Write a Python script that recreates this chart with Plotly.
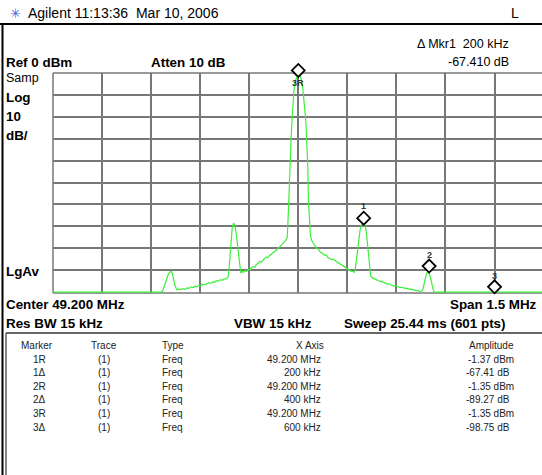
import plotly.graph_objects as go

# ---------------- data ----------------
freq_mhz = [48.45, 48.78, 48.785, 48.792, 48.801, 48.806, 48.811, 48.815, 48.819, 48.823, 48.829,
            48.835, 48.841, 48.847, 48.853, 48.860, 48.866, 48.872, 48.878, 48.884, 48.890, 48.896,
            48.902, 48.908, 48.914, 48.920, 48.926, 48.932, 48.938, 48.944, 48.950, 48.956, 48.962,
            48.968, 48.974, 48.980, 48.985, 48.988, 48.991, 48.994, 48.998, 49.002, 49.006, 49.010,
            49.014, 49.017, 49.020, 49.024, 49.028, 49.032, 49.037, 49.042, 49.047, 49.052, 49.057,
            49.062, 49.067, 49.072, 49.077, 49.082, 49.087, 49.092, 49.097, 49.102, 49.107, 49.112,
            49.117, 49.122, 49.127, 49.132, 49.137, 49.142, 49.147, 49.152, 49.157, 49.162, 49.166,
            49.169, 49.172, 49.175, 49.178, 49.181, 49.184, 49.187, 49.190, 49.194, 49.197, 49.200,
            49.203, 49.207, 49.211, 49.214, 49.217, 49.220, 49.223, 49.226, 49.229, 49.231, 49.234,
            49.237, 49.241, 49.246, 49.251, 49.256, 49.261, 49.266, 49.271, 49.276, 49.281, 49.286,
            49.291, 49.296, 49.301, 49.306, 49.311, 49.316, 49.321, 49.326, 49.331, 49.336, 49.341,
            49.346, 49.351, 49.356, 49.361, 49.366, 49.371, 49.374, 49.377, 49.381, 49.385, 49.389,
            49.393, 49.398, 49.402, 49.406, 49.409, 49.412, 49.415, 49.418, 49.421, 49.426, 49.431,
            49.436, 49.441, 49.446, 49.451, 49.456, 49.461, 49.466, 49.471, 49.476, 49.481, 49.486,
            49.491, 49.496, 49.501, 49.506, 49.511, 49.516, 49.521, 49.526, 49.531, 49.536, 49.541,
            49.546, 49.551, 49.556, 49.561, 49.566, 49.571, 49.576, 49.580, 49.584, 49.588, 49.592,
            49.597, 49.601, 49.605, 49.609, 49.613, 49.617, 49.95]
level_dbm = [-100, -100, -99.5, -96, -92.5, -91, -90.5, -91.5, -94, -97, -99,
             -98.6, -98.9, -98.4, -98.7, -98.1, -98.3, -97.6, -97.9, -97.3, -97.6, -96.9,
             -97.1, -96.4, -96.7, -96.0, -95.7, -96.0, -95.3, -95.5, -94.8, -95.0, -94.3,
             -94.6, -93.9, -94.0, -93.2, -90, -83, -76, -70.5, -68.5, -69.5, -73,
             -78, -83, -88, -91.2, -90.5, -91, -90.2, -90.5, -89.6, -89.9, -88.8,
             -88.4, -88.7, -87.4, -86.8, -86.0, -86.3, -85.2, -84.6, -84.0, -84.3, -83.2,
             -82.9, -82.0, -81.6, -81.0, -80.2, -79.6, -78.9, -78.0, -77.2, -76.2, -75.3,
             -66, -52, -40, -30, -21, -13, -7.5, -4, -1.8, -1.4, -1.37,
             -1.4, -1.9, -4, -7.5, -11, -17, -22, -31, -42, -58, -69,
             -74, -76.5, -77.8, -78.6, -79.9, -80.3, -81.6, -82.0, -82.8, -83.2, -83.0,
             -84.3, -84.6, -85.2, -85.0, -85.5, -85.7, -86.6, -87.0, -87.4, -88.1, -88.6,
             -89.0, -89.6, -89.9, -90.4, -90.6, -90.9, -89.8, -86, -80, -75, -71.5,
             -69.3, -68.8, -69.5, -71, -74, -79, -85, -90, -92.5, -93.4, -93.9,
             -94.1, -94.5, -94.7, -95.2, -95.1, -95.6, -95.8, -96.3, -96.1, -96.6, -96.8,
             -97.2, -97.0, -97.4, -97.5, -97.9, -97.8, -98.1, -98.3, -98.2, -98.6, -98.5,
             -98.8, -98.9, -99.1, -99.3, -99.2, -99.6, -99.7, -99.2, -97, -94, -91.5,
             -90.6, -91.8, -94, -97, -99.3, -100, -100]

marker_freq = [49.2, 49.4, 49.6, 49.8]
marker_level = [-1.35, -68.78, -90.62, -100.10]
marker_labels = ["3R", "1", "2", "3"]

tbl_marker = ["1R", "1\u0394", "2R", "2\u0394", "3R", "3\u0394"]
tbl_trace = ["(1)"] * 6
tbl_type = ["Freq"] * 6
tbl_xaxis = ["49.200 MHz", "200 kHz", "49.200 MHz", "400 kHz", "49.200 MHz", "600 kHz"]
tbl_amp = ["-1.37 dBm", "-67.41 dB", "-1.35 dBm", "-89.27 dB", "-1.35 dBm", "-98.75 dB"]

# ---------------- layout geometry ----------------
W, H = 542, 475
L, T, B = 53, 56, 182          # figure margins (plot region extends above the grid for the markers)
GRID_TOP, GRID_BOT = 73, 293   # pixel rows of the graticule
PW, PH = W - L, H - T - B
Y_LO, Y_HI = -100.4, 0.0
MK_LIFT = 5.5                  # diamonds sit a few pixels above the trace point

def px(x):
    return (x - L) / PW

def py(y):
    return (GRID_BOT - y) / PH

grid_h = GRID_BOT - GRID_TOP
y_dom = [0, grid_h / PH]
y2_dom = [MK_LIFT / PH, 1]
y2_hi = Y_LO + (PH - MK_LIFT) * (Y_HI - Y_LO) / grid_h

FONT = "Liberation Sans, Arial, sans-serif"

fig = go.Figure()
fig.add_trace(go.Scatter(x=freq_mhz, y=level_dbm, mode="lines",
                         line=dict(color="#3cef3c", width=1.2), hoverinfo="skip"))
fig.add_trace(go.Scatter(x=marker_freq, y=marker_level, mode="markers", xaxis="x2", yaxis="y2",
                         cliponaxis=False,
                         marker=dict(symbol="diamond", size=10, color="white",
                                     line=dict(color="black", width=1.8)),
                         hoverinfo="skip"))

ann = []
def txt(x, y, s, size=13, anchor="left", bold=False, color="black"):
    ann.append(dict(x=px(x), y=py(y), xref="paper", yref="paper", text=("<b>%s</b>" % s) if bold else s,
                    showarrow=False, xanchor=anchor, yanchor="middle",
                    font=dict(family=FONT, size=size, color=color)))

# marker labels
shifts = [-7, 18, 17, 16]
for f, lv, lab, s in zip(marker_freq, marker_level, marker_labels, shifts):
    ann.append(dict(x=f, y=lv, xref="x", yref="y", text="<b>%s</b>" % lab, showarrow=False,
                    yshift=s, font=dict(family=FONT, size=9, color="#333333")))

# header
ann.append(dict(x=px(8), y=py(13), xref="paper", yref="paper", text="\u2733", showarrow=False,
                xanchor="left", yanchor="middle", font=dict(family="DejaVu Sans", size=13, color="#4466dd")))
txt(26, 13, "Agilent 11:13:36&nbsp;&nbsp;Mar 10, 2006", size=14)
txt(509, 13, "L", size=14)
txt(511, 44, "\u0394 Mkr1&nbsp;&nbsp;200 kHz", size=12.5, anchor="right")
txt(4, 62, "Ref 0 dBm", bold=True, size=13.4)
txt(149, 62, "Atten 10 dB", bold=True, size=13.4)
txt(511, 62, "-67.410 dB", size=12.5, anchor="right")
txt(4, 78, "Samp", size=12.5)
txt(4, 98, "Log", bold=True, size=13.4)
txt(4, 116, "10", bold=True, size=13.4)
txt(4, 135, "dB/", bold=True, size=13.4)
txt(4, 271, "LgAv", bold=True, size=13.4)
txt(4, 304, "Center 49.200 MHz", bold=True, size=13.4)
txt(539, 304, "Span 1.5 MHz", bold=True, anchor="right", size=13.4)
txt(4, 323, "Res BW 15 kHz", bold=True, size=13.4)
txt(232, 323, "VBW 15 kHz", bold=True, size=13.4)
txt(342, 323, "Sweep 25.44 ms (601 pts)", bold=True, size=13.4)

# table
TS = 10
TC = "#222222"
txt(37, 345, "Marker", size=TS, anchor="center", color=TC)
txt(104, 345, "Trace", size=TS, anchor="center", color=TC)
txt(160, 345, "Type", size=TS, anchor="left", color=TC)
txt(310, 345, "X Axis", size=TS, anchor="center", color=TC)
txt(491, 345, "Amplitude", size=TS, anchor="center", color=TC)
for i in range(6):
    yy = 359 + i * 13.6
    txt(39, yy, tbl_marker[i], size=TS, anchor="center", color=TC)
    txt(104, yy, tbl_trace[i], size=TS, anchor="center", color=TC)
    txt(160, yy, tbl_type[i], size=TS, anchor="left", color=TC)
    txt(323, yy, tbl_xaxis[i], size=TS, anchor="right", color=TC)
    txt(516 if tbl_amp[i].endswith("dBm") else 512, yy, tbl_amp[i], size=TS, anchor="right", color=TC)

shapes = [
    dict(type="line", xref="paper", yref="paper", x0=px(0), x1=px(W), y0=py(24), y1=py(24),
         line=dict(color="black", width=2)),
    dict(type="line", xref="paper", yref="paper", x0=px(2.5), x1=px(2.5), y0=py(24), y1=py(H),
         line=dict(color="black", width=2)),
    dict(type="line", xref="paper", yref="paper", x0=px(6), x1=px(W), y0=py(333), y1=py(333),
         line=dict(color="#333333", width=1.5)),
    dict(type="line", xref="paper", yref="paper", x0=px(6), x1=px(6), y0=py(333), y1=py(H),
         line=dict(color="#333333", width=1.2)),
    # graticule frame (left, top, bottom)
    dict(type="line", xref="paper", yref="paper", x0=0, x1=0, y0=py(GRID_BOT), y1=py(GRID_TOP),
         line=dict(color="#777777", width=1.5), layer="below"),
    dict(type="line", xref="paper", yref="paper", x0=0, x1=1, y0=py(GRID_TOP), y1=py(GRID_TOP),
         line=dict(color="#777777", width=1.5), layer="below"),
    dict(type="line", xref="paper", yref="paper", x0=0, x1=1, y0=py(GRID_BOT), y1=py(GRID_BOT),
         line=dict(color="#777777", width=1.5), layer="below"),
]

x_rng = [48.45, 48.45 + PW / 490.6 * 1.5]
fig.update_layout(
    width=W, height=H, margin=dict(l=L, r=0, t=T, b=B, pad=0),
    paper_bgcolor="white", plot_bgcolor="rgba(0,0,0,0)", showlegend=False,
    xaxis=dict(range=x_rng, tick0=48.45, dtick=0.15, showgrid=True, anchor="y",
               gridcolor="#777777", gridwidth=1.5, showticklabels=False, ticks="",
               zeroline=False, showline=False, fixedrange=True),
    yaxis=dict(range=[Y_LO, Y_HI], domain=y_dom, tick0=0, dtick=10, showgrid=True, anchor="x",
               gridcolor="#777777", gridwidth=1.5, showticklabels=False, ticks="",
               zeroline=False, showline=False, fixedrange=True),
    xaxis2=dict(range=x_rng, anchor="y2", visible=False, showgrid=False, fixedrange=True),
    yaxis2=dict(range=[Y_LO, y2_hi], domain=y2_dom, anchor="x2", visible=False, showgrid=False,
                fixedrange=True),
    annotations=ann, shapes=shapes,
)
fig.write_html("out.html", config={"displayModeBar": False},
               post_script="document.body.style.margin='0';document.body.style.overflow='hidden';")
